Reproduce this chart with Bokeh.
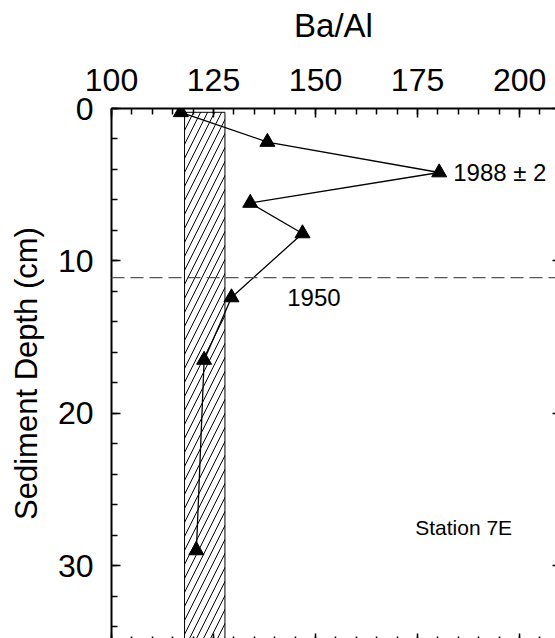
from bokeh.plotting import figure
from bokeh.models import Range1d, LinearAxis, SingleIntervalTicker, Span
from bokeh.core.properties import value
from bokeh.embed import file_html
from bokeh.resources import INLINE

# Ba/Al profile, Station 7E
ba_al = [117.0, 138.2, 180.3, 134.0, 146.8, 129.4, 122.7, 120.8]
depth_cm = [0.25, 2.2, 4.2, 6.2, 8.2, 12.4, 16.5, 29.0]

# background (pre-industrial) Ba/Al band
bg_low = [117.9]
bg_high = [127.8]
bg_top = [0.25]
bg_bottom = [40.0]

depth_1950 = 11.1
x_ticks = [100, 125, 150, 175, 200]
y_ticks = [0, 10, 20, 30]

FONT = "Liberation Sans"

p = figure(width=555, height=638, output_backend="svg", toolbar_location=None,
           x_range=Range1d(100, 208.8), y_range=Range1d(34.78, 0),
           x_axis_location="above", min_border_left=111, min_border_top=108,
           min_border_right=0, min_border_bottom=0)
p.outline_line_color = None
p.grid.visible = False
p.background_fill_color = "white"
p.border_fill_color = "white"

def style_axis(ax, major_in, minor_in, line=True):
    ax.major_tick_in = major_in
    ax.major_tick_out = 0
    ax.minor_tick_in = minor_in
    ax.minor_tick_out = 0
    ax.major_tick_line_width = 1.5
    ax.minor_tick_line_width = 1.5
    ax.major_tick_line_color = "black"
    ax.minor_tick_line_color = "black"
    ax.major_label_text_color = "black"
    ax.axis_label_text_color = "black"
    if line:
        ax.axis_line_width = 2
        ax.axis_line_color = "black"
    else:
        ax.axis_line_color = None

xt = SingleIntervalTicker(interval=25, num_minor_ticks=5)
yt = SingleIntervalTicker(interval=10, num_minor_ticks=5)

xa = p.xaxis[0]
xa.ticker = xt
xa.axis_label = "Ba/Al"
xa.axis_label_text_font = FONT
xa.axis_label_text_font_size = "33px"
xa.axis_label_text_font_style = "normal"
xa.axis_label_standoff = 22
xa.major_label_text_font = FONT
xa.major_label_text_font_size = "32px"
xa.major_label_standoff = 18
style_axis(xa, 9, 6)

ya = p.yaxis[0]
ya.ticker = yt
ya.axis_label = "Sediment Depth (cm)"
ya.axis_label_text_font = FONT
ya.axis_label_text_font_size = "31px"
ya.axis_label_text_font_style = "normal"
ya.axis_label_standoff = 11
ya.major_label_text_font = FONT
ya.major_label_text_font_size = "32px"
ya.major_label_standoff = 18
style_axis(ya, 9, 6)

# tick marks only, along the opposite frame edges
ra = LinearAxis(ticker=SingleIntervalTicker(interval=10, num_minor_ticks=0))
ra.major_label_overrides = {t: "" for t in y_ticks}
ra.major_label_text_font_size = "1px"
ra.major_label_standoff = 0
style_axis(ra, 3, 0, line=False)
p.add_layout(ra, "right")

ba = LinearAxis(ticker=SingleIntervalTicker(interval=25, num_minor_ticks=5))
ba.major_label_overrides = {t: "" for t in x_ticks}
ba.major_label_text_font_size = "1px"
ba.major_label_standoff = 0
style_axis(ba, 5, 2, line=False)
p.add_layout(ba, "below")

# background band
p.quad(left=bg_low, right=bg_high, top=bg_top, bottom=bg_bottom,
       fill_color=None, line_color="black", line_width=1,
       hatch_pattern="/", hatch_color="black", hatch_weight=1, hatch_scale=14)

# 1950 horizon
p.add_layout(Span(location=depth_1950, dimension="width", line_color="#555555",
                  line_width=1.2, line_dash="13 6"))

p.line(ba_al, depth_cm, line_color="black", line_width=1.3)
p.scatter(ba_al, depth_cm, marker="triangle", size=15, fill_color="black",
          line_color="black")

p.text(x=[ba_al[2]], y=[depth_cm[2]], text=["1988 \u00b1 2"], x_offset=14,
       text_align="left", text_baseline="middle", text_color="black",
       text_font=value(FONT), text_font_size="24px")
p.text(x=[149.6], y=[12.4], text=["1950"], text_align="center",
       text_baseline="middle", text_color="black",
       text_font=value(FONT), text_font_size="24px")
p.text(x=[186.3], y=[27.5], text=["Station 7E"], text_align="center",
       text_baseline="middle", text_color="black",
       text_font=value(FONT), text_font_size="21px")

open("out.html", "w").write(file_html(p, INLINE))
